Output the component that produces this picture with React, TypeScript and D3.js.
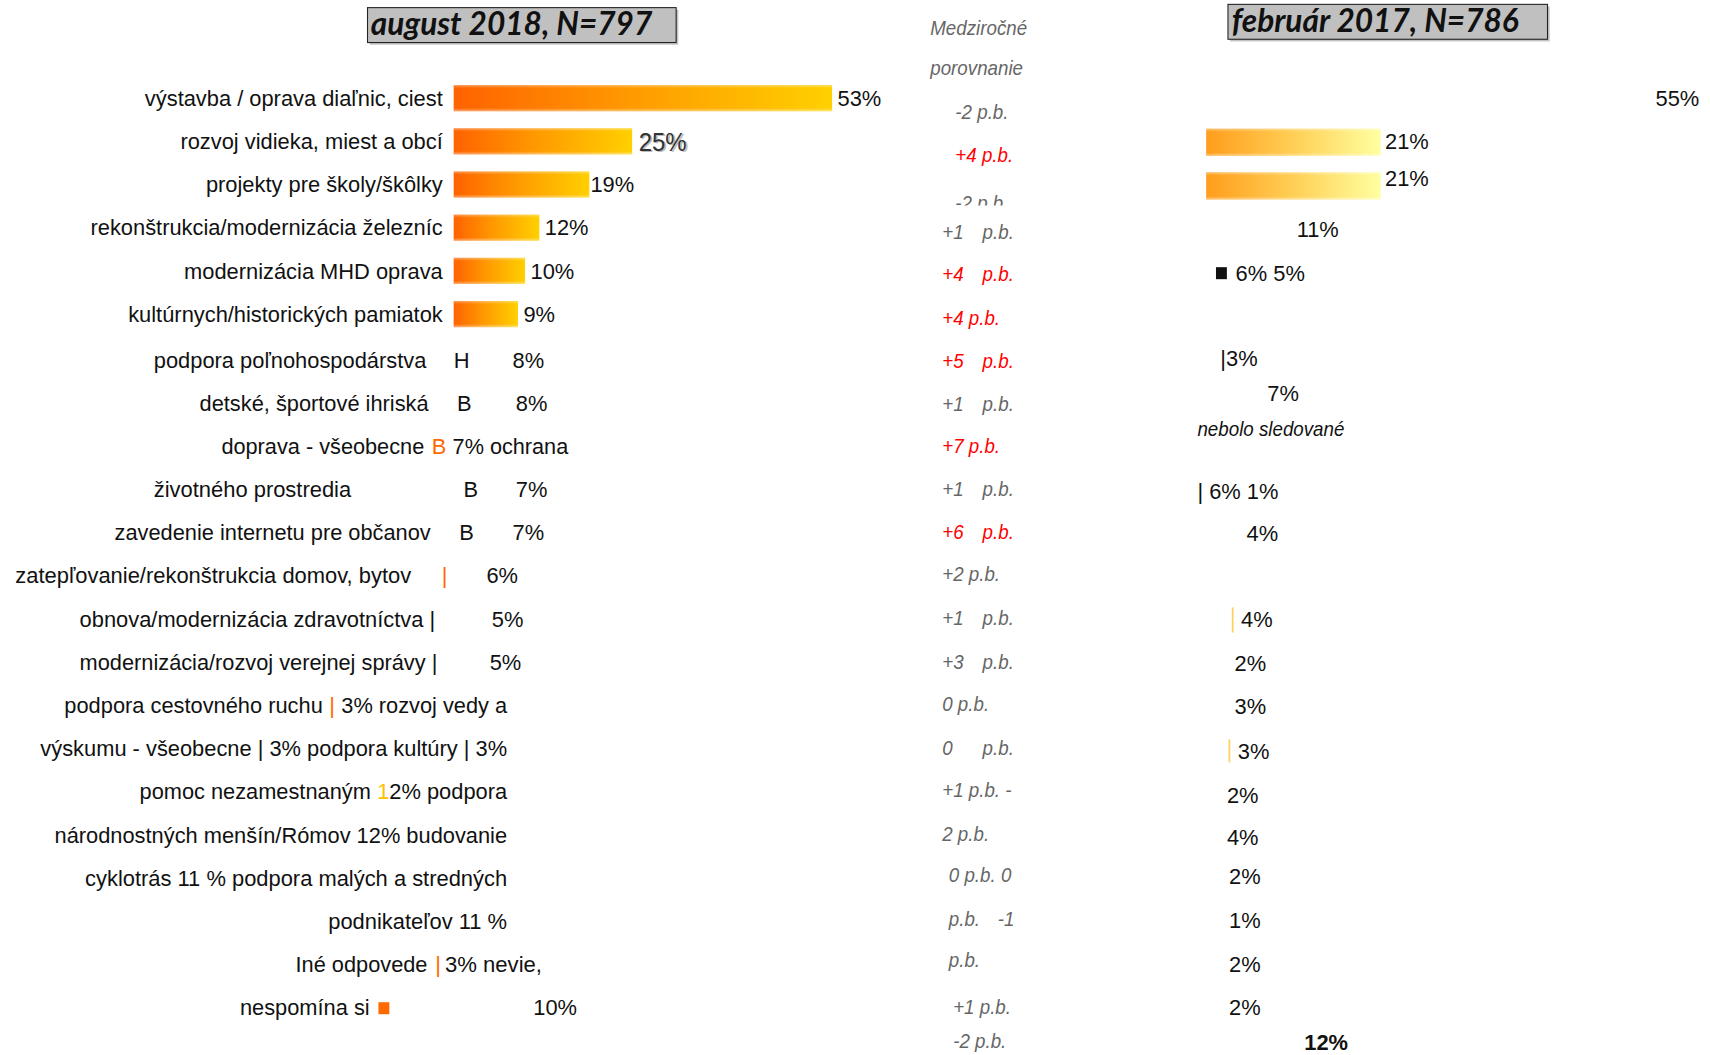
import React from "react";
import * as d3 from "d3";

// ---------- DATA ----------
const leftCategories = [
  "výstavba / oprava diaľnic, ciest",
  "rozvoj vidieka, miest a obcí",
  "projekty pre školy/škôlky",
  "rekonštrukcia/modernizácia železníc",
  "modernizácia MHD oprava",
  "kultúrnych/historických pamiatok",
];
const leftValues = [53, 25, 19, 12, 10, 9];

const rightValues = [21, 21];
const rightLabels = ["21%", "21%"];

const titleLeft = "august 2018, N=797";
const titleRight = "február 2017, N=786";
const middleHeader = ["Medziročné", "porovnanie"];

// garbled text rows (rows 6..21 of left side): [text, colour]
const leftTextRows: [string, string][][] = [
  [["podpora poľnohospodárstva", "k"], ["H", "k"], ["8%", "k"]],
  [["detské, športové ihriská", "k"], ["B", "k"], ["8%", "k"]],
  [["doprava - všeobecne", "k"], ["B", "o"], ["7% ochrana", "k"]],
  [["životného prostredia", "k"], ["B", "k"], ["7%", "k"]],
  [["zavedenie internetu pre občanov", "k"], ["B", "k"], ["7%", "k"]],
  [["zatepľovanie/rekonštrukcia domov, bytov", "k"], ["|", "o"], ["6%", "k"]],
  [["obnova/modernizácia zdravotníctva |", "k"], ["5%", "k"]],
  [["modernizácia/rozvoj verejnej správy |", "k"], ["5%", "k"]],
  [["podpora cestovného ruchu", "k"], ["|", "o"], ["3% rozvoj vedy a", "k"]],
  [["výskumu - všeobecne | 3% podpora kultúry | 3%", "k"]],
  [["pomoc nezamestnaným", "k"], ["1", "y"], ["2% podpora", "k"]],
  [["národnostných menšín/Rómov 12% budovanie", "k"]],
  [["cyklotrás 11 % podpora malých a stredných", "k"]],
  [["podnikateľov 11 %", "k"]],
  [["Iné odpovede", "k"], ["|", "o"], ["3% nevie,", "k"]],
  [["nespomína si", "k"], ["■", "o"], ["10%", "k"]],
];

// middle column: comparison texts [part1, part2, red?]
const middleTexts: [string, string, boolean][] = [
  ["-2 p.b.", "", false],
  ["+4 p.b.", "", true],
  ["-2 p.b.", "", false],
  ["+1", "p.b.", false],
  ["+4", "p.b.", true],
  ["+4 p.b.", "", true],
  ["+5", "p.b.", true],
  ["+1", "p.b.", false],
  ["+7 p.b.", "", true],
  ["+1", "p.b.", false],
  ["+6", "p.b.", true],
  ["+2 p.b.", "", false],
  ["+1", "p.b.", false],
  ["+3", "p.b.", false],
  ["0 p.b.", "", false],
  ["0", "p.b.", false],
  ["+1 p.b. -", "", false],
  ["2 p.b.", "", false],
  ["0 p.b. 0", "", false],
  ["p.b.", "-1", false],
  ["p.b.", "", false],
  ["+1 p.b.", "", false],
  ["-2 p.b.", "", false],
];

// right column texts
const rightTexts = [
  "55%", "11%", "6% 5%", "|3%", "7%", "nebolo sledované", "| 6% 1%", "4%",
  "4%", "2%", "3%", "3%", "2%", "4%", "2%", "1%", "2%", "2%", "12%",
];

// ---------- LAYOUT (reference units) ----------
const leftTextLayout: [number, number][][] = [
  [[141, 250], [416, 0], [470, 0]],
  [[183, 210], [419, 0], [473, 0]],
  [[203, 186], [396, 0], [415, 106]],
  [[141, 181], [425, 0], [473, 0]],
  [[105, 290], [421, 0], [470, 0]],
  [[14, 363], [405, 0], [446, 0]],
  [[73, 326], [451, 0]],
  [[73, 328], [449, 0]],
  [[59, 237], [302, 0], [313, 152]],
  [[37, 428]],
  [[128, 212], [346, 0], [357, 108]],
  [[50, 415]],
  [[78, 387]],
  [[301, 164]],
  [[271, 121], [399, 0], [408, 89]],
  [[220, 119], [345, 0], [489, 0]],
];
const middleLayout: [number, number, number][] = [
  [876, 0, 103], [876, 0, 143], [876, 0, 187], [864, 901, 213], [864, 901, 252],
  [864, 0, 292], [864, 901, 331], [864, 901, 371], [864, 0, 409], [864, 901, 449],
  [864, 901, 488], [864, 0, 527], [864, 901, 567], [864, 901, 607], [864, 0, 646],
  [864, 901, 686], [864, 0, 725], [864, 0, 765], [870, 0, 803], [870, 915, 843],
  [870, 0, 881], [874, 0, 924], [874, 0, 955],
];
const rightLayout: [number, number][] = [
  [1518, 90], [1189, 210], [1133, 251], [1119, 329], [1162, 361], [1098, 394],
  [1098, 451], [1143, 489], [1138, 568], [1132, 608], [1132, 648], [1135, 689],
  [1125, 729], [1125, 768], [1127, 804], [1127, 844], [1127, 884], [1127, 924], [1196, 956],
];

const FONT = "'Liberation Sans', Arial, sans-serif";
const SX = 0.955;
const colorMap: Record<string, string> = { k: "#111", o: "#ff6a00", y: "#ffc000" };

function NT(props: {
  x: number; y: number; size: number; fill: string; anchor?: string;
  italic?: boolean; bold?: boolean; children: React.ReactNode;
}) {
  const { x, y, size, fill, anchor, italic, bold, children } = props;
  return (
    <text
      transform={`translate(${x},${y}) scale(${SX},1)`}
      textAnchor={anchor || "start"}
      fontFamily={FONT}
      fontSize={size}
      fill={fill}
      fontStyle={italic ? "italic" : "normal"}
      fontWeight={bold ? 700 : 400}
    >
      {children}
    </text>
  );
}

export default function App() {
  const W = 1568;
  const H = 967.4;
  const x = d3.scaleLinear().domain([0, 53]).range([416, 763]);
  const xr = d3.scaleLinear().domain([0, 21]).range([1106, 1266]);
  const row = d3.scaleLinear().domain([0, 21]).range([90, 924]);
  const rowT = d3.scaleLinear().domain([0, 5, 6, 21]).range([90, 288, 330, 924]);
  const barH = 24;
  const fs = 21;

  return (
    <svg
      width={1710}
      height={1055}
      viewBox={`0 0 ${W} ${H}`}
      preserveAspectRatio="none"
      style={{ position: "absolute", left: 0, top: 0, background: "#fff" }}
    >
      <defs>
        <linearGradient id="gl" x1="0" x2="1" y1="0" y2="0">
          <stop offset="0%" stopColor="#ff6200" />
          <stop offset="45%" stopColor="#ff9800" />
          <stop offset="100%" stopColor="#ffd000" />
        </linearGradient>
        <linearGradient id="gr" x1="0" x2="1" y1="0" y2="0">
          <stop offset="0%" stopColor="#ff9d1c" />
          <stop offset="50%" stopColor="#ffcf55" />
          <stop offset="100%" stopColor="#ffffa0" />
        </linearGradient>
        <linearGradient id="fade" x1="0" x2="0" y1="0" y2="1">
          <stop offset="0%" stopColor="#fff" stopOpacity="0.35" />
          <stop offset="12%" stopColor="#fff" stopOpacity="0" />
          <stop offset="88%" stopColor="#fff" stopOpacity="0" />
          <stop offset="100%" stopColor="#fff" stopOpacity="0.45" />
        </linearGradient>
        <clipPath id="cut">
          <rect x={840} y={0} width={200} height={188.5} />
        </clipPath>
      </defs>

      {/* titles */}
      <rect x={339} y={9} width={283} height={32} fill="#888" opacity={0.5} />
      <rect x={337} y={7} width={283} height={32} fill="#c0c0c0" stroke="#222" strokeWidth={1} />
      <text x={469} y={32} textAnchor="middle" fontFamily="Lato, 'Open Sans', sans-serif" fontWeight={700} fontStyle="italic" fontSize={29} fill="#111">
        {titleLeft}
      </text>
      <rect x={1128} y={6} width={293} height={32} fill="#888" opacity={0.5} />
      <rect x={1126} y={4} width={293} height={32} fill="#c0c0c0" stroke="#222" strokeWidth={1} />
      <text x={1261} y={29} textAnchor="middle" fontFamily="Lato, 'Open Sans', sans-serif" fontWeight={700} fontStyle="italic" fontSize={29} fill="#111">
        {titleRight}
      </text>

      {/* middle header */}
      {middleHeader.map((t, i) => (
        <NT key={t} x={853} y={32 + i * 37} size={18} fill="#666" italic>
          {t}
        </NT>
      ))}

      {/* left bars */}
      {leftValues.map((v, i) => {
        const yc = rowT(i);
        const y = yc - barH / 2;
        return (
          <g key={i}>
            <rect x={x(0)} y={y} width={x(v) - x(0)} height={barH} fill="url(#gl)" />
            <rect x={x(0)} y={y} width={x(v) - x(0)} height={barH} fill="url(#fade)" />
            <NT x={406} y={yc + 7} anchor="end" size={fs} fill="#111">
              {leftCategories[i]}
            </NT>
            {i === 1 ? (
              <g>
                <NT x={x(v) + 7.5} y={yc + 10} size={23} fill="#bbb">{v}%</NT>
                <NT x={x(v) + 6} y={yc + 8.5} size={23} fill="#333">{v}%</NT>
              </g>
            ) : (
              <NT x={x(v) + (i === 2 ? 1 : 5)} y={yc + 7} size={fs} fill="#111">
                {v}%
              </NT>
            )}
          </g>
        );
      })}

      {/* left garbled rows */}
      {leftTextRows.map((segs, r) => {
        const ri = r + 6;
        const yc = rowT(ri);
        const yb = yc + 7;
        return (
          <g key={ri}>
            {segs.map(([t, c], j) => {
              const [sx, w] = leftTextLayout[r][j];
              if (t === "■") {
                return <rect key={j} x={sx + 2} y={yc - 5} width={10} height={11} fill="#ff6a00" />;
              }
              if (w > 0) {
                return (
                  <text key={j} x={sx} y={yb} fontFamily={FONT} fontSize={fs} fill={colorMap[c]}
                    textLength={w} lengthAdjust="spacingAndGlyphs">
                    {t}
                  </text>
                );
              }
              return (
                <NT key={j} x={sx} y={yb} size={fs} fill={colorMap[c]}>
                  {t}
                </NT>
              );
            })}
          </g>
        );
      })}

      {/* middle comparison column */}
      {middleTexts.map(([a, b, red], i) => {
        const [xa, xb, y] = middleLayout[i];
        const fill = red ? "#ff0000" : "#666";
        return (
          <g key={i} clipPath={i === 2 ? "url(#cut)" : undefined}>
            <NT x={xa} y={y + 6} size={18} fill={fill} italic>{a}</NT>
            {b && <NT x={xb} y={y + 6} size={18} fill={fill} italic>{b}</NT>}
          </g>
        );
      })}

      {/* right bars */}
      {rightValues.map((v, i) => {
        const yc = i === 0 ? 130.5 : 170.5;
        return (
          <g key={i}>
            <rect x={xr(0)} y={yc - 12.5} width={xr(v) - xr(0)} height={25} fill="url(#gr)" />
            <rect x={xr(0)} y={yc - 12.5} width={xr(v) - xr(0)} height={25} fill="url(#fade)" />
            <NT x={xr(v) + 4} y={(i === 0 ? 130 : 164) + 7} size={fs} fill="#111">
              {rightLabels[i]}
            </NT>
          </g>
        );
      })}

      {/* right texts */}
      {rightTexts.map((t, i) => {
        const [tx, ty] = rightLayout[i];
        const italic = t === "nebolo sledované";
        const bold = i === rightTexts.length - 1;
        return (
          <NT key={i} x={tx} y={ty + (italic ? 6 : 7)} size={italic ? 18 : fs} fill="#111" italic={italic} bold={bold}>
            {t}
          </NT>
        );
      })}
      <rect x={1115} y={245} width={10} height={11} fill="#111" />
      <rect x={1129.5} y={557} width={1.6} height={23} fill="#ffd060" />
      <rect x={1126.5} y={678} width={1.6} height={21} fill="#ffd060" />
    </svg>
  );
}
